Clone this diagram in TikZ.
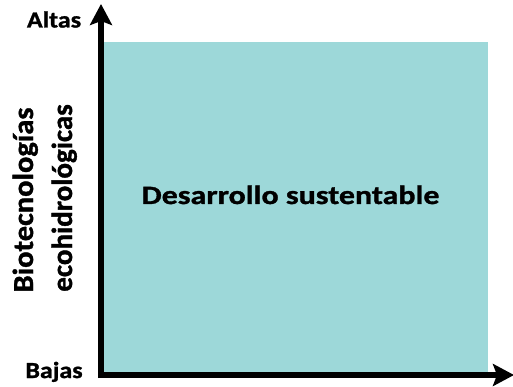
\documentclass[tikz,border=0pt]{standalone}
\usepackage{fontspec}
\setmainfont{Carlito}
\newfontfamily\fontAxis[FakeStretch=1.13,BoldFeatures={FakeBold=1.2}]{Carlito}
\newfontfamily\fontMain[FakeStretch=1.21,BoldFeatures={FakeBold=1.2}]{Carlito}
\newfontfamily\fontBioA[FakeStretch=1.05,BoldFeatures={FakeBold=1.2}]{Carlito}
\newfontfamily\fontBioB[FakeStretch=1.0,BoldFeatures={FakeBold=1.2}]{Carlito}
\usetikzlibrary{arrows.meta}
\definecolor{fillteal}{HTML}{9DD8D9}
\tikzset{
  axisline/.style={line width=6pt, -{Stealth[length=21pt,width=22pt,inset=4pt]}},
  lbl/.style={inner sep=0pt, anchor=base},
}
\begin{document}
\begin{tikzpicture}[x=1pt,y=-1pt]
\useasboundingbox (0,0) rectangle (513,387);
\fill[fillteal] (104,42) rectangle (488,373);
\coordinate (origin) at (101,375);
\coordinate (ytip) at (101,4);
\coordinate (xtip) at (514,375);
\draw[axisline] ([yshift=-3pt]origin) -- (ytip);
\draw[axisline] ([xshift=-3pt]origin) -- (xtip);
\node[lbl, font=\fontAxis\bfseries\fontsize{23}{26}\selectfont] (altas) at (54,27.5) {Altas};
\node[lbl, font=\fontAxis\bfseries\fontsize{23}{26}\selectfont] (bajas) at (54,378) {Bajas};
\node[lbl, font=\fontMain\bfseries\fontsize{26.4}{30}\selectfont] (desarrollo) at (290.5,204) {Desarrollo sustentable};
\node[lbl, rotate=90, font=\fontBioA\bfseries\fontsize{29}{33}\selectfont] (bio1) at (33,200) {Biotecnologías};
\node[lbl, rotate=90, font=\fontBioB\bfseries\fontsize{29}{33}\selectfont] (bio2) at (72,198) {ecohidrológicas};
\end{tikzpicture}
\end{document}
